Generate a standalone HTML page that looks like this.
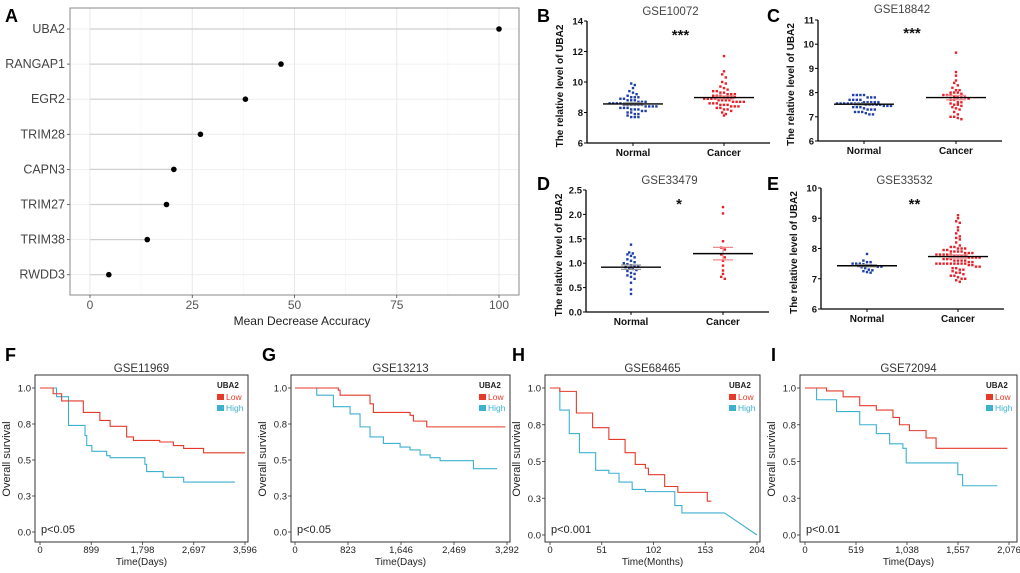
<!DOCTYPE html>
<html><head><meta charset="utf-8">
<style>
html,body{margin:0;padding:0;background:#fff;}
svg{display:block;font-family:"Liberation Sans",Arial,sans-serif;}
</style></head>
<body>
<svg id="fig" width="1020" height="573" viewBox="0 0 1020 573" xmlns="http://www.w3.org/2000/svg">
</svg>
<script>
// ---------- Panel A data ----------
const aGenes = ["UBA2","RANGAP1","EGR2","TRIM28","CAPN3","TRIM27","TRIM38","RWDD3"];
const aValues = [100,46.7,38,27,20.5,18.7,14,4.6];
const aTicks = [0,25,50,75,100];

// ---------- Dot plot data ----------
const bNormal = [9.9,9.8,9.6,9.4,9.3,9.2,9.1,9.0,9.0,9.0,8.9,8.9,8.8,8.8,8.8,8.7,8.7,8.7,8.6,8.6,8.6,8.6,8.5,8.5,8.5,8.5,8.5,8.5,8.4,8.4,8.4,8.4,8.3,8.3,8.3,8.2,8.2,8.2,8.1,8.1,8.0,8.0,7.9,7.9,7.8,7.7,7.7,7.7];
const bCancer = [11.7,10.7,10.5,10.3,10.0,9.9,9.7,9.6,9.5,9.4,9.4,9.3,9.3,9.2,9.2,9.2,9.1,9.1,9.1,9.0,9.0,9.0,9.0,8.9,8.9,8.9,8.9,8.8,8.8,8.8,8.8,8.7,8.7,8.7,8.7,8.6,8.6,8.6,8.5,8.5,8.5,8.4,8.4,8.4,8.3,8.3,8.2,8.2,8.1,8.0,7.9,7.8];
const cNormal = [7.9,7.9,7.9,7.9,7.8,7.8,7.8,7.7,7.7,7.7,7.7,7.6,7.6,7.6,7.6,7.6,7.55,7.55,7.55,7.55,7.55,7.55,7.55,7.55,7.5,7.5,7.5,7.5,7.5,7.45,7.45,7.45,7.4,7.4,7.4,7.35,7.3,7.3,7.3,7.2,7.2,7.2,7.15,7.1,7.1];
const cCancer = [9.65,8.85,8.7,8.5,8.4,8.3,8.2,8.1,8.1,8.0,8.0,8.0,7.95,7.9,7.9,7.9,7.85,7.8,7.8,7.8,7.75,7.7,7.7,7.6,7.6,7.55,7.5,7.5,7.45,7.4,7.35,7.3,7.2,7.1,7.0,7.0,6.95,6.9];
const dNormal = [1.38,1.22,1.2,1.18,1.15,1.12,1.08,1.05,1.02,1.0,0.98,0.96,0.95,0.93,0.92,0.9,0.88,0.86,0.84,0.8,0.78,0.75,0.72,0.68,0.6,0.46,0.37];
const dCancer = [2.15,2.02,1.45,1.32,1.28,1.18,1.12,1.05,0.95,0.85,0.78,0.72,0.68];
const eNormal = [7.82,7.6,7.55,7.55,7.5,7.5,7.5,7.48,7.45,7.45,7.42,7.4,7.4,7.38,7.35,7.3,7.28,7.25,7.22,7.2];
const eCancer = [9.1,9.0,8.9,8.85,8.7,8.6,8.5,8.4,8.35,8.3,8.2,8.1,8.05,8.05,8.0,8.0,8.0,7.95,7.95,7.9,7.9,7.9,7.9,7.85,7.85,7.85,7.8,7.8,7.8,7.8,7.8,7.75,7.75,7.75,7.75,7.7,7.7,7.7,7.7,7.65,7.65,7.65,7.6,7.6,7.6,7.6,7.55,7.55,7.5,7.5,7.5,7.5,7.5,7.5,7.5,7.5,7.5,7.45,7.45,7.4,7.4,7.35,7.35,7.3,7.3,7.25,7.2,7.2,7.15,7.1,7.1,7.05,7.0,7.0,6.95,6.9];
const bTicks = [6,8,10,12,14];
const cTicks = [6,7,8,9,10,11];
const dTicks = [0,0.5,1.0,1.5,2.0,2.5];
const eTicks = [6,7,8,9,10];

// ---------- Survival data [time, survival] ----------
const fLow = [[0,1],[230,0.96],[380,0.91],[760,0.83],[1050,0.775],[1230,0.734],[1520,0.66],[1640,0.636],[2100,0.625],[2340,0.60],[2520,0.58],[2870,0.55],[3596,0.55]];
const fHigh = [[0,1],[290,0.94],[500,0.74],[790,0.67],[820,0.60],[910,0.56],[1170,0.53],[1230,0.516],[1840,0.47],[1870,0.42],[2160,0.38],[2520,0.347],[3420,0.347]];
const gLow = [[0,1],[673,0.985],[700,0.95],[1165,0.89],[1217,0.83],[1787,0.81],[1839,0.77],[2046,0.73],[3266,0.73]];
const gHigh = [[0,1],[337,0.95],[596,0.87],[855,0.82],[1010,0.73],[1165,0.66],[1373,0.615],[1632,0.59],[1787,0.57],[1943,0.535],[2098,0.516],[2253,0.495],[2771,0.44],[3137,0.44]];
const hLow = [[0,1],[9.7,0.977],[26,0.83],[42,0.73],[58,0.65],[74,0.56],[84,0.48],[94,0.455],[97,0.41],[113,0.33],[126,0.29],[155,0.23],[159,0.23]];
const hHigh = [[0,1],[9.7,0.85],[19,0.69],[29,0.56],[45,0.44],[58,0.42],[68,0.36],[81,0.31],[94,0.295],[123,0.20],[130,0.15],[172,0.15]];
const hHighTail = [[172,0.15],[204,0]];
const iLow = [[0,1],[219,0.98],[388,0.94],[557,0.88],[726,0.85],[895,0.80],[962,0.75],[1063,0.71],[1232,0.66],[1334,0.59],[2060,0.59]];
const iHigh = [[0,1],[118,0.92],[321,0.84],[557,0.75],[726,0.69],[861,0.62],[996,0.59],[1030,0.49],[1502,0.49],[1555,0.41],[1604,0.335],[1958,0.335]];
const survYTicks = [0,0.25,0.5,0.75,1.0];
const survYLabels = ["0.0","0.3","0.5","0.8","1.0"];
const fXTicks = [0,899,1798,2697,3596];
const gXTicks = [0,823,1646,2469,3292];
const hXTicks = [0,51,102,153,204];
const iXTicks = [0,519,1038,1557,2076];

const NS = "http://www.w3.org/2000/svg";
const svg = document.getElementById("fig");
function el(tag, attrs, parent, text){
  const e = document.createElementNS(NS, tag);
  for (const k in attrs) e.setAttribute(k, attrs[k]);
  if (text !== undefined) e.textContent = text;
  (parent||svg).appendChild(e);
  return e;
}
function fmt(n){ return n.toLocaleString("en-US"); }

// ---------- Panel A ----------
(function(){
  const g = el("g",{});
  
  
  const x0=70,x1=519,y0=8,y1=295;
  const xs = v => 90 + v*(499-90)/100;
  const ys = i => 29 + i*35.1;
  el("rect",{x:x0,y:y0,width:x1-x0,height:y1-y0,fill:"#fff",stroke:"none"},g);
  for (let v=-12.5; v<=112.5; v+=12.5){
    const x=xs(v); if (x<=x0||x>=x1) continue;
    el("line",{x1:x,y1:y0,x2:x,y2:y1,stroke:(v%25===0)?"#e6e6e6":"#f2f2f2","stroke-width":(v%25===0)?0.9:0.6},g);
  }
  aGenes.forEach((gn,i)=>{
    const y=ys(i);
    el("line",{x1:x0,y1:y,x2:x1,y2:y,stroke:"#ececec","stroke-width":0.8},g);
    const seg=el("line",{x1:xs(0),y1:y,x2:xs(aValues[i]),y2:y,stroke:"#cfcfcf","stroke-width":1.2},g);
    
    
    const c=el("circle",{cx:xs(aValues[i]),cy:y,r:2.8,fill:"#000"},g);
    
    
    el("line",{x1:x0-3,y1:y,x2:x0,y2:y,stroke:"#444","stroke-width":0.8},g);
    const t=el("text",{x:x0-5,y:y+4,"text-anchor":"end","font-size":12.5,fill:"#444"},g,gn);
    
    
  });
  el("rect",{x:x0,y:y0,width:x1-x0,height:y1-y0,fill:"none",stroke:"#8a8a8a","stroke-width":1},g);
  aTicks.forEach(v=>{
    el("line",{x1:xs(v),y1:y1,x2:xs(v),y2:y1+3,stroke:"#444","stroke-width":0.8},g);
    const t=el("text",{x:xs(v),y:y1+14,"text-anchor":"middle","font-size":12,fill:"#555"},g,String(v));
    
    
  });
  const xl=el("text",{x:302,y:325,"text-anchor":"middle","font-size":12,fill:"#222"},g,"Mean Decrease Accuracy");
  
  
  const L=el("text",{x:5,y:22,"font-size":18,"font-weight":"bold",fill:"#000"},g,"A");
  
  
})();

// ---------- Dot plots ----------
function dotPanel(o){
  const g = el("g",{});
  
  
  const ys = v => o.bottom - (v-o.min)/(o.max-o.min)*(o.bottom-o.top);
  el("line",{x1:o.ax,y1:o.top,x2:o.ax,y2:o.bottom,stroke:"#000","stroke-width":1.3},g);
  el("line",{x1:o.ax,y1:o.bottom,x2:o.axEnd,y2:o.bottom,stroke:"#000","stroke-width":1.3},g);
  o.ticks.forEach(v=>{
    el("line",{x1:o.ax-3,y1:ys(v),x2:o.ax,y2:ys(v),stroke:"#000","stroke-width":1},g);
    const t=el("text",{x:o.ax-4,y:ys(v)+3.5,"text-anchor":"end","font-size":9.5,"font-weight":"bold",fill:"#111"},g,o.tickFmt(v));
    
    
  });
  const groups=[{vals:o.normal,x:o.nx,col:"#1f3fa8",semCol:"#999",name:"Normal"},{vals:o.cancer,x:o.cx,col:"#e8202a",semCol:"#f08a8a",name:"Cancer"}];
  groups.forEach(gr=>{
    el("line",{x1:gr.x,y1:o.bottom,x2:gr.x,y2:o.bottom+3,stroke:"#000","stroke-width":1},g);
    const t=el("text",{x:gr.x,y:o.bottom+13,"text-anchor":"middle","font-size":10,"font-weight":"bold",fill:"#111"},g,gr.name);
    
    
    const rows={};
    gr.vals.forEach(v=>{ const k=Math.round(ys(v)/4.2); (rows[k]=rows[k]||[]).push(v); });
    Object.keys(rows).forEach(k=>{
      const arr=rows[k];
      arr.forEach((v,j)=>{
        const off=(j-(arr.length-1)/2)*3.6;
        const d=el("rect",{x:gr.x+off-1.2,y:ys(v)-1.2,width:2.4,height:2.4,fill:gr.col},g);
        
        
      });
    });
    const n=gr.vals.length, mean=gr.vals.reduce((a,b)=>a+b,0)/n;
    const sd=Math.sqrt(gr.vals.reduce((a,b)=>a+(b-mean)*(b-mean),0)/(n-1)), sem=sd/Math.sqrt(n);
    [mean+sem,mean-sem].forEach(v=>el("line",{x1:gr.x-10,y1:ys(v),x2:gr.x+10,y2:ys(v),stroke:gr.semCol,"stroke-width":1.2},g));
    el("line",{x1:gr.x,y1:ys(mean+sem),x2:gr.x,y2:ys(mean-sem),stroke:gr.semCol,"stroke-width":1},g);
    const m=el("line",{x1:gr.x-30,y1:ys(mean),x2:gr.x+30,y2:ys(mean),stroke:"#000","stroke-width":1.4},g);
    
    
  });
  const yl=el("text",{x:0,y:0,"text-anchor":"middle","font-size":10,"font-weight":"bold",fill:"#111",transform:`translate(${o.ax-24},${(o.top+o.bottom)/2+4}) rotate(-90)`},g,"The relative level of UBA2");
  
  
  const tt=el("text",{x:(o.ax+o.axEnd)/2-8,y:o.titleY,"text-anchor":"middle","font-size":11.5,fill:"#444"},g,o.title);
  
  
  const st=el("text",{x:(o.nx+o.cx)/2+2,y:o.titleY+25,"text-anchor":"middle","font-size":15,"font-weight":"bold",fill:"#111"},g,o.stars);
  
  
  const L=el("text",{x:o.lx,y:o.ly,"font-size":18,"font-weight":"bold",fill:"#000"},g,o.id.toUpperCase());
  
  
}
const f0=v=>String(v), f1=v=>v.toFixed(1);
dotPanel({id:"b",normal:bNormal,cancer:bCancer,ticks:bTicks,min:6,max:14,ax:587,axEnd:770,top:21,bottom:143,nx:633,cx:724,title:"GSE10072",titleY:15,stars:"***",lx:537,ly:22,tickFmt:f0});
dotPanel({id:"c",normal:cNormal,cancer:cCancer,ticks:cTicks,min:6,max:11,ax:818,axEnd:1002,top:20,bottom:141,nx:864,cx:956,title:"GSE18842",titleY:13,stars:"***",lx:767,ly:22,tickFmt:f0});
dotPanel({id:"d",normal:dNormal,cancer:dCancer,ticks:dTicks,min:0,max:2.5,ax:586,axEnd:769,top:190,bottom:312,nx:631,cx:723,title:"GSE33479",titleY:184,stars:"*",lx:537,ly:190,tickFmt:f1});
dotPanel({id:"e",normal:eNormal,cancer:eCancer,ticks:eTicks,min:6,max:10,ax:821,axEnd:1004,top:188,bottom:309,nx:867,cx:958,title:"GSE33532",titleY:184,stars:"**",lx:767,ly:190,tickFmt:f0});

// ---------- Survival panels ----------
function survPanel(o){
  const g = el("g",{});
  
  
  const xs = t => o.x0 + t/o.tmax*(o.x1-o.x0);
  const ys = s => o.yb - s*(o.yb-o.yt);
  el("rect",{x:o.bx0,y:375,width:o.bx1-o.bx0,height:167,fill:"none",stroke:"#333","stroke-width":1},g);
  survYTicks.forEach((v,i)=>{
    el("line",{x1:o.bx0-3,y1:ys(v),x2:o.bx0,y2:ys(v),stroke:"#333","stroke-width":0.8},g);
    const t=el("text",{x:o.bx0-4,y:ys(v)+3.5,"text-anchor":"end","font-size":9.5,fill:"#222"},g,survYLabels[i]);
    
    
  });
  o.xticks.forEach(v=>{
    el("line",{x1:xs(v),y1:542,x2:xs(v),y2:545,stroke:"#333","stroke-width":0.8},g);
    const t=el("text",{x:xs(v),y:553,"text-anchor":"middle","font-size":9.5,fill:"#222"},g,fmt(v));
    
    
  });
  function step(data,col,name){
    let d=`M${xs(data[0][0])},${ys(data[0][1])}`;
    for(let i=1;i<data.length;i++){ d+=` H${xs(data[i][0])} V${ys(data[i][1])}`; }
    const p=el("path",{d:d,fill:"none",stroke:col,"stroke-width":1.1},g);
    
    
  }
  step(o.high,"#3cb1d0","high-survival-curve");
  step(o.low,"#e43a2a","low-survival-curve");
  if (o.tail){
    const p=el("polyline",{points:o.tail.map(p=>xs(p[0])+","+ys(p[1])).join(" "),fill:"none",stroke:"#3cb1d0","stroke-width":1.1},g);
    
    
  }
  const lx=o.bx1-31;
  const lt=el("text",{x:lx,y:388,"font-size":8,"font-weight":"bold",fill:"#222"},g,"UBA2");
  
  
  [["Low","#e43a2a",394],["High","#3cb1d0",405]].forEach(([n,c,y])=>{
    const r=el("rect",{x:lx,y:y,width:7,height:6,fill:c},g);
    
    
    const t=el("text",{x:lx+9,y:y+6,"font-size":8.5,fill:c},g,n);
    
    
  });
  const p=el("text",{x:o.bx0+6,y:533,"font-size":11,fill:"#222"},g,o.p);
  
  
  const yl=el("text",{x:0,y:0,"text-anchor":"middle","font-size":11,fill:"#222",transform:`translate(${o.bx0-25},459) rotate(-90)`},g,"Overall survival");
  
  
  const xl=el("text",{x:(o.bx0+o.bx1)/2,y:565,"text-anchor":"middle","font-size":10,fill:"#222"},g,o.xlabel);
  
  
  const tt=el("text",{x:(o.bx0+o.bx1)/2,y:372,"text-anchor":"middle","font-size":11.5,fill:"#333"},g,o.title);
  
  
  const L=el("text",{x:o.lx,y:361,"font-size":18,"font-weight":"bold",fill:"#000"},g,o.id.toUpperCase());
  
  
}
survPanel({id:"f",low:fLow,high:fHigh,xticks:fXTicks,tmax:3596,x0:40,x1:245,bx0:35,bx1:248,yt:388,yb:532,title:"GSE11969",xlabel:"Time(Days)",p:"p<0.05",lx:5});
survPanel({id:"g",low:gLow,high:gHigh,xticks:gXTicks,tmax:3292,x0:295,x1:507,bx0:291,bx1:510,yt:388,yb:532,title:"GSE13213",xlabel:"Time(Days)",p:"p<0.05",lx:262});
survPanel({id:"h",low:hLow,high:hHigh,tail:hHighTail,xticks:hXTicks,tmax:204,x0:550,x1:757,bx0:545,bx1:760,yt:388,yb:535,title:"GSE68465",xlabel:"Time(Months)",p:"p<0.001",lx:512});
survPanel({id:"i",low:iLow,high:iHigh,xticks:iXTicks,tmax:2076,x0:805,x1:1009,bx0:800,bx1:1017,yt:388,yb:535,title:"GSE72094",xlabel:"Time(Days)",p:"p<0.01",lx:771});
</script>
</body></html>
